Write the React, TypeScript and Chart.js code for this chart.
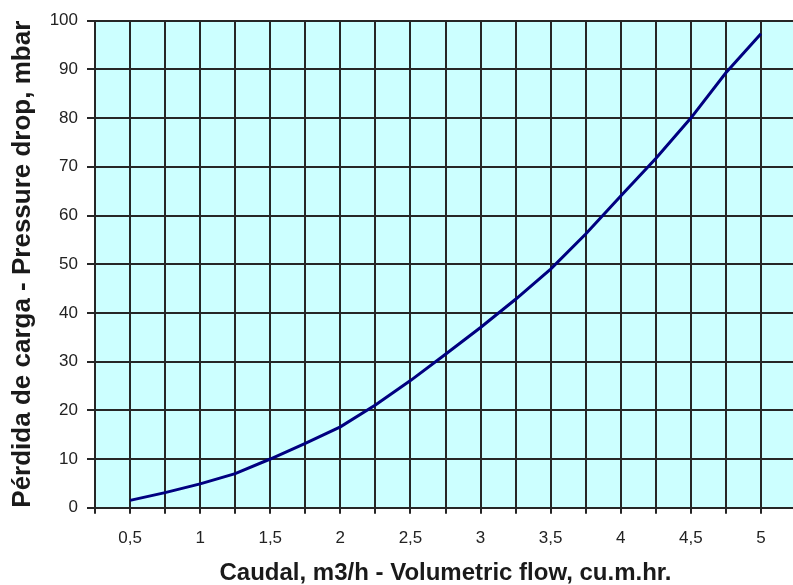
import React, { useEffect, useRef } from 'react';
import { Chart, registerables } from 'chart.js';

Chart.register(...registerables);

// Data
const flow = [0.5, 0.75, 1, 1.25, 1.5, 1.75, 2, 2.25, 2.5, 2.75, 3, 3.25, 3.5, 3.75, 4, 4.25, 4.5, 4.75, 5];
const pressureDrop = [1.5, 3.1, 4.9, 7.0, 10.0, 13.2, 16.6, 21.1, 26.1, 31.5, 37.0, 42.8, 49.0, 56.2, 64.0, 71.7, 80.0, 89.3, 97.3];

const xTitle = 'Caudal, m3/h - Volumetric flow, cu.m.hr.';
const yTitle = 'Pérdida de carga - Pressure drop, mbar';

const xMin = 0.25;
const xMax = 5.25;
const xStep = 0.25;
const yMin = 0;
const yMax = 100;
const yStep = 10;

const FONT = 'Arial, "Liberation Sans", sans-serif';
const GRID = '#262626';
const X_TICK_PAD = 14;

const plotBg = {
  id: 'plotBg',
  beforeDraw(chart: any) {
    const { ctx, chartArea: a } = chart;
    ctx.save();
    ctx.fillStyle = '#CCFFFF';
    ctx.fillRect(a.left, a.top, a.right - a.left, a.bottom - a.top);
    ctx.restore();
  },
};

export default function App() {
  const ref = useRef<HTMLCanvasElement | null>(null);

  useEffect(() => {
    if (!ref.current) return;
    const points = flow.map((x, i) => ({ x, y: pressureDrop[i] }));
    const chart = new Chart(ref.current, {
      type: 'line',
      data: {
        datasets: [
          {
            data: points,
            borderColor: '#000080',
            borderWidth: 3,
            pointRadius: 0,
            tension: 0,
            fill: false,
          },
        ],
      },
      plugins: [plotBg],
      options: {
        responsive: false,
        animation: false,
        layout: { padding: { top: 20.7, right: 0, bottom: 0, left: 0 } },
        plugins: { legend: { display: false }, tooltip: { enabled: false } },
        scales: {
          x: {
            type: 'linear',
            min: xMin,
            max: xMax,
            afterFit(scale: any) {
              scale.height = 585 - 507.7;
            },
            ticks: {
              stepSize: xStep,
              autoSkip: false,
              maxRotation: 0,
              minRotation: 0,
              padding: X_TICK_PAD,
              color: '#222',
              font: { family: FONT, size: 17 },
              callback: (v: any) => {
                const n = Number(v) * 2;
                if (Math.abs(n - Math.round(n)) < 1e-6) {
                  return String(Math.round(n) / 2).replace('.', ',');
                }
                return '';
              },
            },
            grid: {
              color: GRID,
              lineWidth: 2,
              drawTicks: true,
              tickLength: 6,
            },
            border: { display: true, color: GRID, width: 2 },
            title: {
              display: true,
              text: xTitle,
              color: '#1a1a1a',
              font: { family: FONT, size: 24, weight: 'bold', lineHeight: 1 },
              padding: { top: 0, bottom: 0 },
            },
          },
          y: {
            type: 'linear',
            min: yMin,
            max: yMax,
            afterFit(scale: any) {
              scale.width = 95;
            },
            ticks: {
              stepSize: yStep,
              padding: 9,
              color: '#222',
              font: { family: FONT, size: 17 },
            },
            grid: {
              color: GRID,
              lineWidth: 2,
              drawTicks: true,
              tickLength: 8,
            },
            border: { display: true, color: GRID, width: 2 },
            title: {
              display: true,
              text: yTitle,
              color: '#1a1a1a',
              font: { family: FONT, size: 26, weight: 'bold', lineHeight: 1 },
              padding: { top: 10, bottom: 0 },
            },
          },
        },
      },
    });
    return () => chart.destroy();
  }, []);

  // the x scale reserves ticks.padding on its right edge; widen the canvas so the
  // plot area runs past the visible 793px edge as in the reference
  return (
    <div
      style={{
        position: 'fixed',
        left: 0,
        top: 0,
        width: 793,
        height: 585,
        overflow: 'hidden',
        background: '#fff',
      }}
    >
      <canvas ref={ref} width={796 + X_TICK_PAD} height={585} style={{ display: 'block' }} />
    </div>
  );
}
